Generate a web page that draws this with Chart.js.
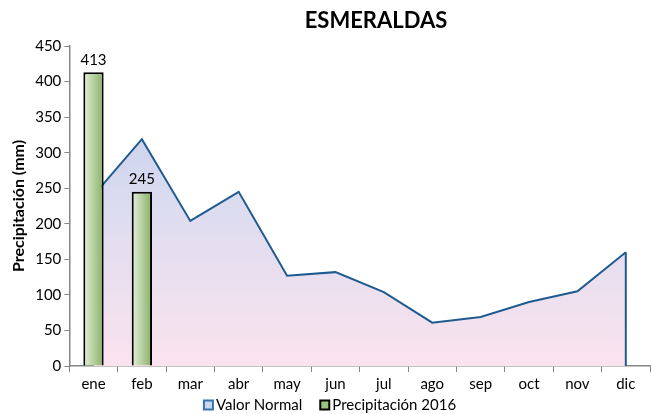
<!DOCTYPE html>
<html>
<head>
<meta charset="utf-8">
<script src="https://cdn.jsdelivr.net/npm/chart.js@4"></script>
<style>
  html, body { margin: 0; padding: 0; background: #fff; }
  #wrap { width: 656px; height: 414px; }
</style>
</head>
<body>
<div id="wrap"><canvas id="chart" width="656" height="414"></canvas></div>
<script>
const months = ["ene", "feb", "mar", "abr", "may", "jun", "jul", "ago", "sep", "oct", "nov", "dic"];
const valorNormal = [240, 319, 204, 245, 127, 132, 104, 61, 69, 90, 105, 160];
const precip2016 = [413, 245, null, null, null, null, null, null, null, null, null, null];
const yTicks = [0, 50, 100, 150, 200, 250, 300, 350, 400, 450];
const legendItems = ["Valor Normal", "Precipitación 2016"];

const FONT = "Lato, 'Noto Sans', sans-serif";
const axisColor = "#868686";

// area fill: blue at top fading to pink at the axis
function areaFill(ctx) {
  const area = ctx.chart.chartArea;
  if (!area) return "rgba(190,205,235,0.8)";
  const g = ctx.chart.ctx.createLinearGradient(0, area.top, 0, area.bottom);
  g.addColorStop(0, "#b7c9e8");
  g.addColorStop(0.5, "#dcdcf0");
  g.addColorStop(1, "#fbe3ee");
  return g;
}

// bars: light green on the left, darker on the right
function barFill(ctx) {
  const chart = ctx.chart;
  const xs = chart.scales && chart.scales.x;
  if (!xs || !chart.chartArea) return "#a9c98c";
  const cx = xs.getPixelForValue(ctx.dataIndex);
  const g = chart.ctx.createLinearGradient(cx - 10, 0, cx + 10, 0);
  g.addColorStop(0, "#e4f0da");
  g.addColorStop(1, "#88b066");
  return g;
}

const extras = {
  id: "extras",
  afterDatasetsDraw(chart) {
    const c = chart.ctx;
    // closing edge of the area at dic
    const lineMeta = chart.getDatasetMeta(0);
    const last = lineMeta.data[lineMeta.data.length - 1];
    c.save();
    c.strokeStyle = "#1f5b8e";
    c.lineWidth = 2;
    c.beginPath();
    c.moveTo(last.x, last.y);
    c.lineTo(last.x, chart.scales.y.getPixelForValue(0));
    c.stroke();
    // value labels over the bars
    const barMeta = chart.getDatasetMeta(1);
    c.fillStyle = "#000";
    c.font = "15px " + FONT;
    c.textAlign = "center";
    c.textBaseline = "bottom";
    barMeta.data.forEach((bar, i) => {
      const v = precip2016[i];
      if (v == null) return;
      c.fillText(String(v), bar.x, bar.y - 5);
    });
    c.restore();
  },
  afterDraw(chart) {
    const c = chart.ctx;
    c.save();
    c.fillStyle = "#000";
    c.font = "bold 22px " + FONT;
    c.textAlign = "center";
    c.textBaseline = "middle";
    c.fillText("ESMERALDAS", 376, 21);

    // legend: small square box hugging its text, items 18px apart
    c.font = "15px " + FONT;
    c.textBaseline = "middle";
    c.textAlign = "left";
    const box = 9, gapText = 3, gapItem = 18;
    const widths = legendItems.map(t => box + gapText + c.measureText(t).width);
    const total = widths[0] + gapItem + widths[1];
    let x = 330 - total / 2;
    const y = 405;
    const styles = [
      { fill: "#c9d8ef", stroke: "#3a72b0" },
      { fill: "#9cc47c", stroke: "#000" },
    ];
    legendItems.forEach((t, i) => {
      c.fillStyle = styles[i].fill;
      c.strokeStyle = styles[i].stroke;
      c.lineWidth = 2;
      c.fillRect(x, y - box / 2, box, box);
      c.strokeRect(x, y - box / 2, box, box);
      c.fillStyle = "#000";
      c.fillText(t, x + box + gapText, y);
      x += widths[i] + gapItem;
    });
    c.restore();
  }
};

new Chart(document.getElementById("chart"), {
  data: {
    labels: months,
    datasets: [
      {
        type: "line",
        label: "Valor Normal",
        data: valorNormal,
        borderColor: "#1f5b8e",
        borderWidth: 2,
        backgroundColor: areaFill,
        fill: "origin",
        tension: 0,
        pointRadius: 0,
        order: 2,
      },
      {
        type: "bar",
        label: "Precipitación 2016",
        data: precip2016,
        backgroundColor: barFill,
        borderColor: "#000",
        borderWidth: 2,
        categoryPercentage: 1,
        barPercentage: 0.42,
        order: 1,
      },
    ],
  },
  options: {
    responsive: false,
    animation: false,
    layout: { padding: { top: 46, right: 6, left: 5, bottom: 18 } },
    plugins: {
      title: { display: false },
      tooltip: { enabled: false },
      legend: { display: false },
    },
    scales: {
      x: {
        offset: true,
        grid: {
          offset: true,
          drawOnChartArea: false,
          color: axisColor,
          tickLength: 6,
        },
        border: { color: axisColor, width: 1.5 },
        ticks: { font: { family: FONT, size: 15 }, color: "#000", padding: 3 },
      },
      y: {
        min: 0,
        max: 450,
        afterBuildTicks(scale) {
          scale.ticks = yTicks.map(v => ({ value: v }));
        },
        grid: {
          drawOnChartArea: false,
          color: axisColor,
          tickLength: 5,
        },
        border: { color: axisColor, width: 1.5 },
        ticks: { font: { family: FONT, size: 15 }, color: "#000", padding: 3 },
        title: {
          display: true,
          text: "Precipitación (mm)",
          font: { family: FONT, size: 16, weight: "bold" },
          color: "#000",
          padding: { bottom: 4 },
        },
      },
    },
  },
  plugins: [extras],
});
</script>
</body>
</html>
